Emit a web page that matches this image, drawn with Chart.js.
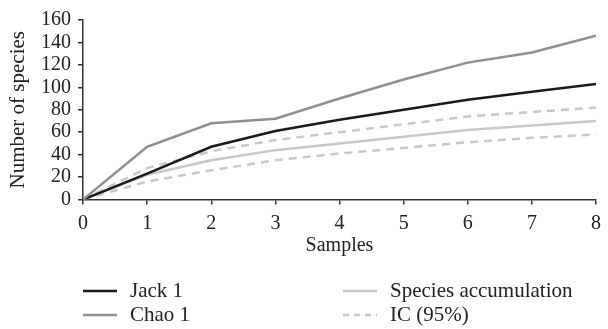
<!DOCTYPE html>
<html>
<head>
<meta charset="utf-8">
<script src="https://cdn.jsdelivr.net/npm/chart.js@4"></script>
<style>
  html, body { margin: 0; padding: 0; background: #fff; }
  #wrap { width: 608px; height: 329px; position: relative; }
</style>
</head>
<body>
<div id="wrap"><canvas id="speciesChart" width="608" height="329"></canvas></div>
<script>
// samples on the x axis
var samples = [0, 1, 2, 3, 4, 5, 6, 7, 8];
var yTicks = [0, 20, 40, 60, 80, 100, 120, 140, 160];

// estimator curves
var jack1 = [0, 23, 47, 61, 71, 80, 89, 96, 103];
var chao1 = [0, 47, 68, 72, 90, 107, 122, 131, 146];
var speciesAcc = [0, 22, 35, 44, 50, 56, 62, 66, 70];
var icUpper = [0, 28, 43, 53, 60, 67, 74, 78, 82];
var icLower = [0, 16, 26, 35, 41, 46, 51, 55, 58];

var FONT = "'Liberation Serif', 'Times New Roman', serif";

function toPoints(arr) {
	var pts = [];
	for (var i in samples) {
		pts.push({x: samples[i], y: arr[i]});
	}
	return pts;
}

var lineBase = {
	fill: false,
	tension: 0,
	pointRadius: 0,
	borderWidth: 2.5
};

var datasets = [
	Object.assign({}, lineBase, {label: 'Chao 1', data: toPoints(chao1), borderColor: '#8f8f8f'}),
	Object.assign({}, lineBase, {label: 'Jack 1', data: toPoints(jack1), borderColor: '#1a1a1a'}),
	Object.assign({}, lineBase, {label: 'Species accumulation', data: toPoints(speciesAcc), borderColor: '#c8c8c8'}),
	Object.assign({}, lineBase, {label: 'IC (95%)', data: toPoints(icUpper), borderColor: '#c8c8c8', borderDash: [8, 6]}),
	Object.assign({}, lineBase, {label: 'IC (95%) lower', data: toPoints(icLower), borderColor: '#c8c8c8', borderDash: [8, 6]})
];

// legend laid out in two columns under the chart
var legendItems = [
	{label: 'Jack 1', ds: 1, x: 83, y: 291},
	{label: 'Chao 1', ds: 0, x: 83, y: 315},
	{label: 'Species accumulation', ds: 2, x: 343, y: 291},
	{label: 'IC (95%)', ds: 3, x: 343, y: 315}
];

var legendPlugin = {
	id: 'twoColLegend',
	afterDraw: function(chart) {
		var ctx = chart.ctx;
		ctx.save();
		legendItems.forEach(function(item) {
			var ds = chart.data.datasets[item.ds];
			ctx.beginPath();
			ctx.strokeStyle = ds.borderColor;
			ctx.lineWidth = 2.5;
			ctx.setLineDash(ds.borderDash ? [6, 5] : []);
			ctx.moveTo(item.x, item.y);
			ctx.lineTo(item.x + 34, item.y);
			ctx.stroke();
			ctx.setLineDash([]);
			ctx.fillStyle = '#222';
			ctx.font = '21px ' + FONT;
			ctx.textBaseline = 'middle';
			ctx.fillText(item.label, item.x + 47, item.y);
		});
		ctx.restore();
	}
};

var ctx = document.getElementById('speciesChart');
var chart = new Chart(ctx, {
	type: 'line',
	data: {datasets: datasets},
	plugins: [legendPlugin],
	options: {
		responsive: false,
		animation: false,
		layout: {padding: {top: 20, right: 5, bottom: 71, left: 0}},
		plugins: {
			legend: {display: false},
			tooltip: {enabled: false}
		},
		scales: {
			x: {
				type: 'linear',
				min: 0,
				max: 8,
				afterFit: function(scale) { scale.height = 58.5; },
				ticks: {stepSize: 1, autoSkip: false, maxRotation: 0, color: '#222', padding: 7, font: {family: FONT, size: 20}},
				grid: {drawOnChartArea: false, drawTicks: true, tickLength: 5, color: '#333', lineWidth: 1.5},
				border: {display: true, color: '#333', width: 1.5},
				title: {display: true, text: 'Samples', color: '#222', font: {family: FONT, size: 20}, padding: {top: 0, bottom: 0}}
			},
			y: {
				min: 0,
				max: 160,
				afterFit: function(scale) { scale.width = 83; },
				afterBuildTicks: function(scale) {
					scale.ticks = yTicks.map(function(v) { return {value: v}; });
				},
				ticks: {autoSkip: false, color: '#222', padding: 7, font: {family: FONT, size: 20}},
				grid: {drawOnChartArea: false, drawTicks: true, tickLength: 5, color: '#333', lineWidth: 1.5},
				border: {display: true, color: '#333', width: 1.5},
				title: {display: true, text: 'Number of species', color: '#222', font: {family: FONT, size: 21}, padding: {top: 6, bottom: 0}}
			}
		}
	}
});
</script>
</body>
</html>
